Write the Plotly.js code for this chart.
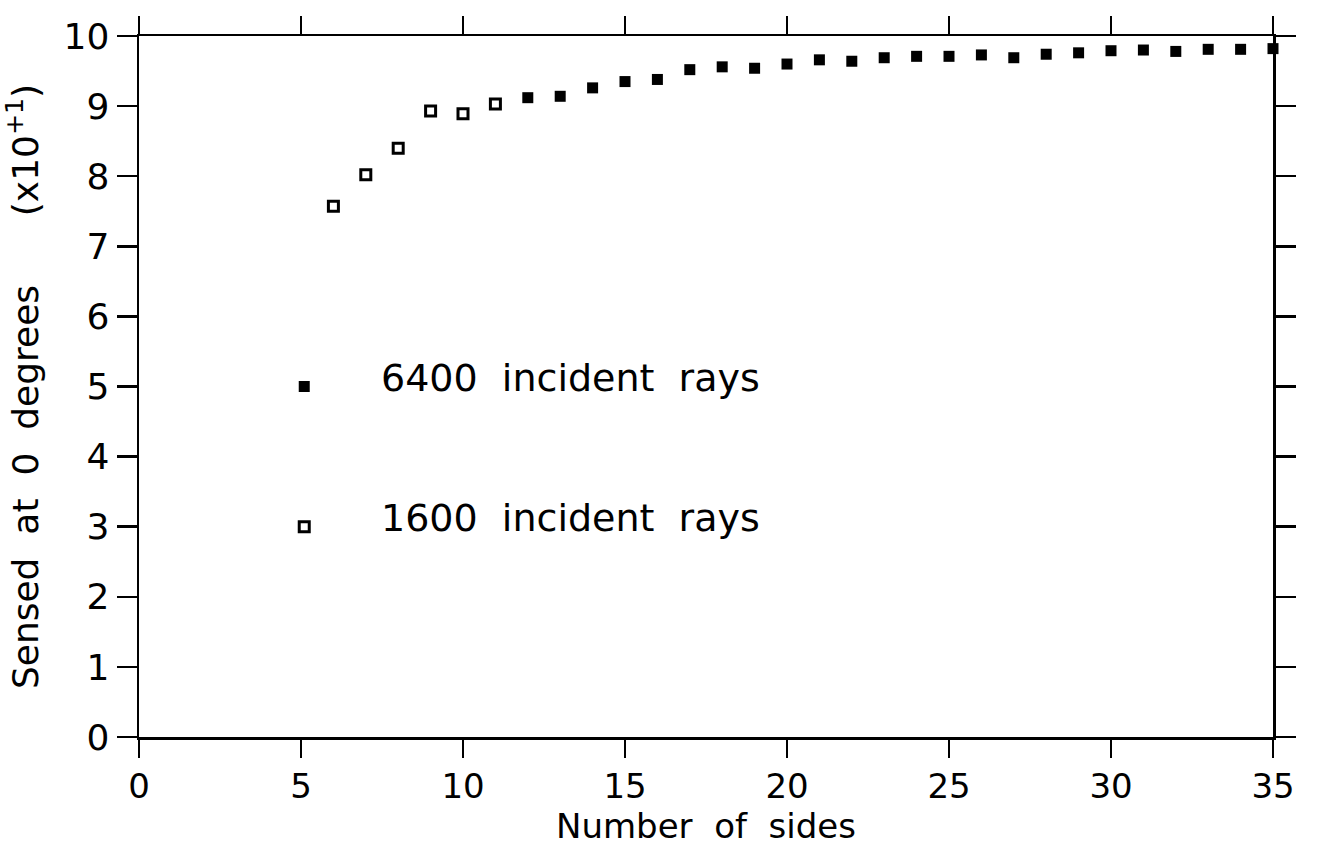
<!DOCTYPE html>
<html>
<head>
<meta charset="utf-8">
<script src="https://cdn.plot.ly/plotly-3.0.1.min.js"></script>
<style>
  html, body { margin: 0; padding: 0; background: #ffffff; }
  #chart { width: 1325px; height: 849px; }
</style>
</head>
<body>
<div id="chart"></div>
<script>
// Number of sides and sensed values (x10^+1)
const sides1600 = [6, 7, 8, 9, 10, 11];
const sensed1600 = [7.57, 8.02, 8.40, 8.93, 8.89, 9.03];

const sides6400 = [12, 13, 14, 15, 16, 17, 18, 19, 20, 21, 22, 23, 24, 25, 26, 27, 28, 29, 30, 31, 32, 33, 34, 35];
const sensed6400 = [9.12, 9.14, 9.26, 9.35, 9.38, 9.52, 9.56, 9.54, 9.60, 9.66, 9.64, 9.69, 9.71, 9.71, 9.73, 9.69, 9.74, 9.76, 9.79, 9.80, 9.78, 9.81, 9.81, 9.82];

// In-plot key
const keyLabels = ["6400 incident rays", "1600 incident rays"];
const keyX = [5.1, 5.1];
const keyY = [5.0, 3.0];
const keyTextX = 7.4;

const xTicks = [0, 5, 10, 15, 20, 25, 30, 35];
const yTicks = [0, 1, 2, 3, 4, 5, 6, 7, 8, 9, 10];

const FONT = "DejaVu Sans, Liberation Sans, sans-serif";

const filledMarker = { symbol: "square", size: 11, color: "#000000" };
const openMarker = { symbol: "square-open", size: 10, color: "#000000", line: { color: "#000000", width: 3 } };

const traces = [
  { x: sides6400, y: sensed6400, type: "scatter", mode: "markers", marker: filledMarker, showlegend: false, cliponaxis: false },
  { x: sides1600, y: sensed1600, type: "scatter", mode: "markers", marker: openMarker, showlegend: false, cliponaxis: false },
  { x: [keyX[0]], y: [keyY[0]], type: "scatter", mode: "markers", marker: filledMarker, showlegend: false },
  { x: [keyX[1]], y: [keyY[1]], type: "scatter", mode: "markers", marker: openMarker, showlegend: false }
];

const annotations = keyLabels.map((t, i) => ({
  x: keyTextX, y: keyY[i] + 0.12, xref: "x", yref: "y",
  text: t.replace(/ /g, "\u00A0\u00A0"),
  showarrow: false, xanchor: "left", yanchor: "middle",
  font: { family: FONT, size: 38, color: "#000000" }
}));

const layout = {
  width: 1325, height: 849,
  paper_bgcolor: "#ffffff", plot_bgcolor: "#ffffff",
  margin: { l: 139, r: 52, t: 36, b: 112 },
  font: { family: FONT, color: "#000000" },
  showlegend: false,
  xaxis: {
    range: [0, 35], tickvals: xTicks, ticktext: xTicks.map(String),
    showgrid: false, zeroline: false,
    showline: true, linecolor: "#000000", linewidth: 2.5, mirror: "ticks",
    ticks: "outside", ticklen: 18, tickwidth: 2.5, tickcolor: "#000000",
    tickfont: { family: FONT, size: 34, color: "#000000" },
    title: { text: "Number\u00A0\u00A0of\u00A0\u00A0sides", font: { family: FONT, size: 34, color: "#000000" }, standoff: 4 }
  },
  yaxis: {
    range: [0, 10], tickvals: yTicks, ticktext: yTicks.map(String),
    showgrid: false, zeroline: false,
    showline: true, linecolor: "#000000", linewidth: 2.5, mirror: "ticks",
    ticks: "outside", ticklen: 20, tickwidth: 2.5, tickcolor: "#000000",
    tickfont: { family: FONT, size: 36, color: "#000000" },
    title: { text: "Sensed\u00A0\u00A0at\u00A0\u00A00\u00A0\u00A0degrees\u00A0\u00A0\u00A0\u00A0\u00A0\u00A0(x10<sup>+1</sup>)", font: { family: FONT, size: 36, color: "#000000" }, standoff: 14 }
  },
  annotations: annotations
};

Plotly.newPlot("chart", traces, layout, { displayModeBar: false, staticPlot: true });
</script>
</body>
</html>
